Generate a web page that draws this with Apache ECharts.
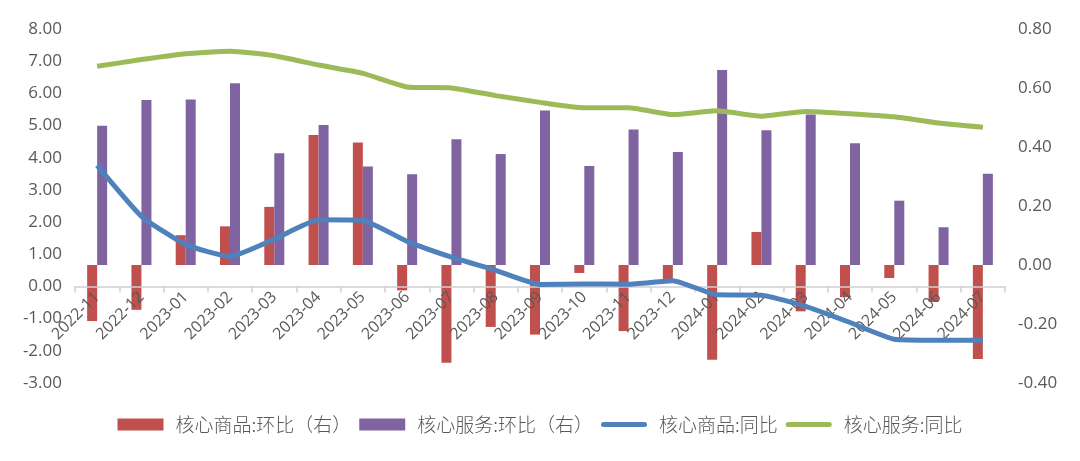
<!DOCTYPE html>
<html>
<head>
<meta charset="utf-8">
<script src="https://cdn.jsdelivr.net/npm/echarts@6/dist/echarts.min.js"></script>
<style>
html,body{margin:0;padding:0;background:#fff;}
#chart{width:1080px;height:461px;}
</style>
</head>
<body>
<div id="chart"></div>
<script>
var categories = ['2022-11','2022-12','2023-01','2023-02','2023-03','2023-04','2023-05','2023-06','2023-07','2023-08','2023-09','2023-10','2023-11','2023-12','2024-01','2024-02','2024-03','2024-04','2024-05','2024-06','2024-07'];
var goodsMoM = [-0.19,-0.152,0.101,0.131,0.197,0.441,0.415,-0.086,-0.331,-0.210,-0.236,-0.027,-0.224,-0.055,-0.321,0.112,-0.157,-0.109,-0.044,-0.125,-0.319];
var servicesMoM = [0.472,0.559,0.561,0.616,0.379,0.475,0.334,0.308,0.426,0.376,0.524,0.336,0.459,0.383,0.661,0.457,0.510,0.413,0.218,0.128,0.309];
var goodsYoY = [3.76,2.18,1.30,0.93,1.47,2.07,2.05,1.40,0.91,0.50,0.06,0.08,0.07,0.18,-0.26,-0.27,-0.62,-1.12,-1.64,-1.67,-1.67];
var servicesYoY = [6.84,7.05,7.23,7.31,7.17,6.88,6.62,6.20,6.17,5.93,5.72,5.55,5.55,5.34,5.46,5.29,5.44,5.37,5.27,5.08,4.95];
var seriesNames = ['核心商品:环比（右）','核心服务:环比（右）','核心商品:同比','核心服务:同比'];
var leftMin = -3, leftMax = 8, leftInterval = 1;
var rightMin = -0.4, rightMax = 0.8, rightInterval = 0.2;

var W = 1080, H = 461;
var gridTop = 29, gridBottom = 78, gridLeft = 75, gridRight = 75;
var gridH = H - gridTop - gridBottom;
// place category axis at left-axis zero
var xOffset = -((0 - leftMin) / (leftMax - leftMin)) * gridH;

var chart = echarts.init(document.getElementById('chart'));
var txt = '#595959';
var lineIcon = 'path://M2.5,0 L43.5,0 A2.5,2.5 0 0 1 43.5,5 L2.5,5 A2.5,2.5 0 0 1 2.5,0 Z';
chart.setOption({
  animation: false,
  grid: {left: gridLeft, right: gridRight, top: gridTop, bottom: gridBottom},
  legend: {
    bottom: 22, left: 'center',
    itemWidth: 46, itemHeight: 12, itemGap: 8,
    textStyle: {fontFamily: 'Noto Sans CJK SC', fontSize: 19, color: txt, fontWeight: 300, padding: [0, 0, 0, 7]},
    data: [
      {name: seriesNames[0], icon: 'rect'},
      {name: seriesNames[1], icon: 'rect'},
      {name: seriesNames[2], icon: lineIcon},
      {name: seriesNames[3], icon: lineIcon}
    ]
  },
  xAxis: {
    type: 'category', data: categories, z: 5, position: 'bottom', offset: xOffset,
    axisLine: {onZero: false, lineStyle: {color: '#d0d0d0', width: 1.5}},
    axisTick: {show: true, length: 6, interval: 0, lineStyle: {color: '#d0d0d0', width: 1.5}},
    axisLabel: {rotate: 45, interval: 0, margin: 8, fontSize: 16, color: txt, fontFamily: 'Open Sans'}
  },
  yAxis: [
    {type: 'value', min: leftMin, max: leftMax, interval: leftInterval, splitLine: {show: false},
     axisLine: {show: false}, axisTick: {show: false},
     axisLabel: {fontSize: 17, color: txt, fontFamily: 'Open Sans', margin: 13, formatter: function(v){return v.toFixed(2);}}},
    {type: 'value', min: rightMin, max: rightMax, interval: rightInterval, splitLine: {show: false},
     axisLine: {show: false}, axisTick: {show: false},
     axisLabel: {fontSize: 17, color: txt, fontFamily: 'Open Sans', margin: 13, formatter: function(v){return v.toFixed(2);}}}
  ],
  series: [
    {name: seriesNames[0], type: 'bar', yAxisIndex: 1, data: goodsMoM, barWidth: 10, barGap: '0%', itemStyle: {color: '#C0504D'}},
    {name: seriesNames[1], type: 'bar', yAxisIndex: 1, data: servicesMoM, barWidth: 10, barGap: '0%', itemStyle: {color: '#8064A2'}},
    {name: seriesNames[2], type: 'line', yAxisIndex: 0, data: goodsYoY, symbol: 'none', smooth: 0.15, z: 6,
     lineStyle: {color: '#4F81BD', width: 5}, itemStyle: {color: '#4F81BD'}},
    {name: seriesNames[3], type: 'line', yAxisIndex: 0, data: servicesYoY, symbol: 'none', smooth: 0.15, z: 6,
     lineStyle: {color: '#9BBB59', width: 5}, itemStyle: {color: '#9BBB59'}}
  ]
});
</script>
</body>
</html>
